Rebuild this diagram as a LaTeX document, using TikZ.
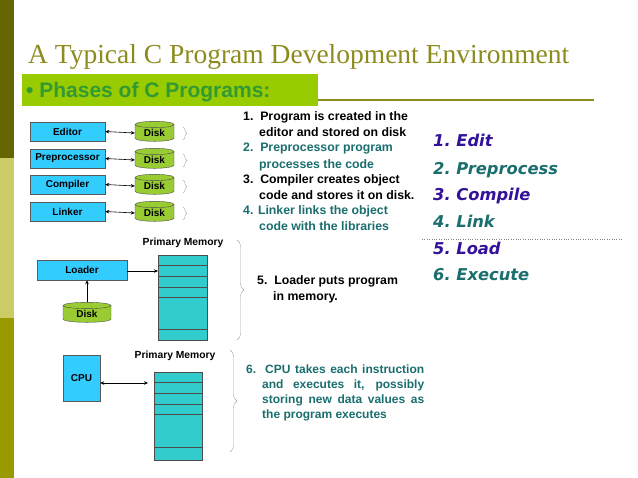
\documentclass[tikz,border=0pt]{standalone}
\usepackage{fontspec}
\setmainfont{Liberation Serif}
\setsansfont{Liberation Sans}
\newfontfamily\verd{DejaVu Sans}
\usetikzlibrary{shapes.geometric,decorations.pathreplacing,arrows.meta}
\definecolor{cyanbox}{HTML}{33CCFF}
\definecolor{diskg}{HTML}{99CC33}
\definecolor{memc}{HTML}{33CCCC}
\definecolor{olive}{HTML}{8C8C1E}
\definecolor{teal1}{HTML}{1A6E6E}
\definecolor{purp}{HTML}{33119A}
\definecolor{barg}{HTML}{99CC00}
\definecolor{darkg}{HTML}{339933}
\definecolor{side1}{HTML}{666600}
\definecolor{side2}{HTML}{CCCC66}
\definecolor{side3}{HTML}{999900}
\tikzset{
 box/.style={draw=gray!70!black,fill=cyanbox,font=\sffamily\bfseries\fontsize{10}{11}\selectfont,inner sep=0pt},
 disk/.style={cylinder,shape border rotate=90,aspect=0.3,draw=black!70,fill=diskg,minimum width=39pt,minimum height=20pt,inner sep=0pt,font=\sffamily\bfseries\fontsize{10}{11}\selectfont},
 conn/.style={{Stealth[length=4pt,width=3.5pt]}-{Stealth[length=4pt,width=3.5pt]},semithick},
 oneway/.style={-{Stealth[length=4pt,width=3.5pt]},semithick},
 txt/.style={anchor=north west,align=left,font=\sffamily\bfseries\fontsize{12.3}{16.5}\selectfont,inner sep=0pt},
 lst/.style={anchor=base west,font=\verd\bfseries\itshape\fontsize{16.3}{17}\selectfont,inner sep=0pt},
 brc/.style={draw=gray!70,decorate,decoration={brace,amplitude=#1}},
 memlbl/.style={font=\sffamily\bfseries\fontsize{10.3}{11}\selectfont,inner sep=0pt}
}
\begin{document}
\begin{tikzpicture}[x=1pt,y=-1pt]
\useasboundingbox (0,0) rectangle (638,478);
\fill[white] (0,0) rectangle (638,478);
\fill[side1] (0,0) rectangle (14,158);
\fill[side2] (0,158) rectangle (14,318);
\fill[side3] (0,318) rectangle (14,478);
\node[anchor=base west,inner sep=0pt,text=olive,font=\fontsize{27.5}{29}\selectfont] (title) at (28,64) {A Typical C Program Development Environment};
\fill[barg] (22,74) rectangle (318,106);
\draw[olive,line width=1.2pt] (318,100) -- (594,100);
\node[anchor=base west,inner sep=0pt,text=darkg,font=\sffamily\bfseries\fontsize{21}{22}\selectfont] (phases) at (26,98) {•\ Phases of C Programs:};
% phase boxes
\node[box,minimum width=75pt,minimum height=19pt] (ed) at (67.5,131.5) {Editor};
\node[box,minimum width=75pt,minimum height=19pt] (pp) at (67.5,158.5) {Preprocessor};
\node[box,minimum width=75pt,minimum height=19pt] (co) at (67.5,184.5) {Compiler};
\node[box,minimum width=75pt,minimum height=19pt] (li) at (67.5,211.5) {Linker};
\node[disk] (d1) at (154.5,133) {Disk};
\node[disk] (d2) at (154.5,160) {Disk};
\node[disk] (d3) at (154.5,186) {Disk};
\node[disk] (d4) at (154.5,213) {Disk};
\foreach \a/\b in {ed/d1,pp/d2,co/d3,li/d4} \draw[conn] (\a.east) -- (\b.west);
\foreach \y in {127,154,180,207} \draw[brc=4pt] (183,\y) -- (183,\y+13);
\node[txt] (t1) at (243,111) {1.\ \ Program is created in the\\\hspace{16pt}editor and stored on disk};
\node[txt,text=teal1] (t2) at (243,143) {2.\ \ Preprocessor program\\\hspace{16pt}processes the code};
\node[txt] (t3) at (243,174) {3.\ \ Compiler creates object\\\hspace{16pt}code and stores it on disk.};
\node[txt,text=teal1] (t4) at (243,205) {4. Linker links the object\\\hspace{16pt}code with the libraries};
% right list
\node[lst,text=purp] (l1) at (433,147) {1.\ Edit};
\node[lst,text=teal1] (l2) at (433,175) {2.\ Preprocess};
\node[lst,text=purp] (l3) at (433,201) {3.\ Compile};
\node[lst,text=teal1] (l4) at (433,228) {4.\ Link};
\node[lst,text=purp] (l5) at (433,255) {5.\ Load};
\node[lst,text=teal1] (l6) at (433,281) {6.\ Execute};
\draw[gray,dotted,thin] (422,239) -- (622,239);
% loader
\node[memlbl] (pm1) at (183,243) {Primary Memory};
\draw[fill=memc,draw=black!70] (158,255) rectangle (207,340);
\foreach \y in {265,276,287,297,329} \draw[black!70] (158,\y) -- (207,\y);
\coordinate (m1) at (158,271);
\node[box,minimum width=90pt,minimum height=20pt] (ld) at (82,270) {Loader};
\node[disk,minimum width=48pt] (d5) at (87,314) {Disk};
\draw[oneway] (ld.east|-m1) -- (m1);
\draw[oneway] (d5.north) -- (d5.north|-ld.south);
\draw[brc=7pt] (237,240) -- (237,340);
\node[txt] (t5) at (257,275) {5.\ \ Loader puts program\\\hspace{16pt}in memory.};
% cpu
\node[memlbl] (pm2) at (175,356) {Primary Memory};
\draw[fill=memc,draw=black!70] (154,372) rectangle (202,460);
\foreach \y in {382,393,404,414,447} \draw[black!70] (154,\y) -- (202,\y);
\node[box,minimum width=37pt,minimum height=46pt] (cpu) at (81.5,378) {CPU};
\coordinate (m2) at (148,383);
\draw[conn] (cpu.east|-m2) -- (m2);
\draw[brc=7pt] (230,350) -- (230,452);
\node[txt,text=teal1,font=\sffamily\bfseries\fontsize{12}{15}\selectfont] (t6) at (246,365) {\makebox[178pt][s]{6.\ \ CPU takes each instruction}\\\hspace*{16pt}\makebox[162pt][s]{and executes it, possibly}\\\hspace*{16pt}\makebox[162pt][s]{storing new data values as}\\\hspace*{16pt}the program executes};
\end{tikzpicture}
\end{document}
